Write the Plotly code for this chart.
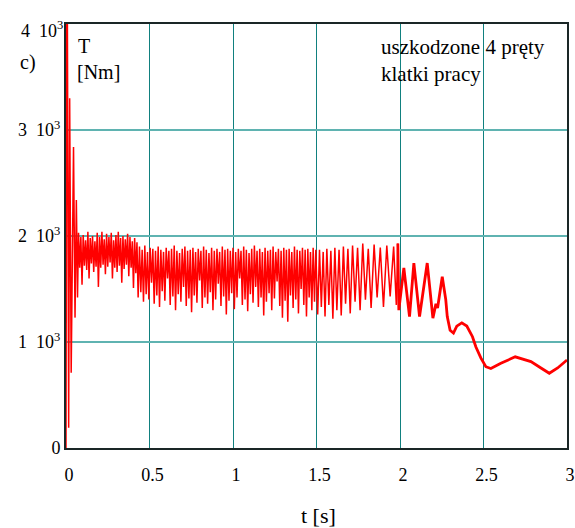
import plotly.graph_objects as go

# ---- data (alternating extremes of the torque signal) ----
t_start = [0.000, 0.006, 0.016, 0.022, 0.031, 0.045, 0.054, 0.062, 0.069]
T_start = [0, 5200, 190, 3300, 710, 2840, 1230, 2340, 1420]

t_early = [0.075, 0.082, 0.089, 0.096, 0.103, 0.110, 0.117, 0.124, 0.131, 0.138,
           0.145, 0.152, 0.159, 0.166, 0.173, 0.180, 0.187, 0.194, 0.201, 0.208,
           0.215, 0.222, 0.229, 0.236, 0.243, 0.250, 0.257, 0.264, 0.271, 0.278,
           0.285, 0.292, 0.299, 0.306, 0.313, 0.320, 0.327, 0.334, 0.341, 0.348,
           0.355, 0.362, 0.369, 0.376, 0.383, 0.390, 0.397, 0.404, 0.411, 0.418,
           0.425]
T_early = [2030, 1700, 1990, 1540, 2010, 1720, 1960, 1680, 2040, 1600,
           1980, 1740, 2000, 1660, 1950, 1710, 2030, 1520, 1990, 1700,
           2040, 1730, 1970, 1640, 2020, 1710, 1990, 1750, 2030, 1600,
           1960, 1700, 2010, 1660, 2040, 1720, 1980, 1560, 2000, 1690,
           1970, 1730, 2020, 1620, 1990, 1700, 1950, 1510, 1980, 1650,
           1940]

t_mid = [0.432, 0.440, 0.448, 0.456, 0.464, 0.472, 0.480, 0.488, 0.496, 0.504,
         0.512, 0.520, 0.528, 0.536, 0.544, 0.552, 0.560, 0.568, 0.576, 0.584,
         0.592, 0.600, 0.608, 0.616, 0.624, 0.632, 0.640, 0.648, 0.656, 0.664,
         0.672, 0.680, 0.688, 0.696, 0.704, 0.712, 0.720, 0.728, 0.736, 0.744,
         0.752, 0.760, 0.768, 0.776, 0.784, 0.792, 0.800, 0.808, 0.816, 0.824,
         0.832, 0.840, 0.848, 0.856, 0.864, 0.872, 0.880, 0.888, 0.896, 0.904,
         0.912, 0.920, 0.928, 0.936, 0.944, 0.952, 0.960, 0.968, 0.976, 0.984,
         0.992, 1.000, 1.008, 1.016, 1.024, 1.032, 1.040, 1.048, 1.056, 1.064,
         1.072, 1.080, 1.088, 1.096, 1.104, 1.112, 1.120, 1.128, 1.136, 1.144,
         1.152, 1.160, 1.168, 1.176, 1.184, 1.192, 1.200, 1.208, 1.216, 1.224,
         1.232, 1.240, 1.248, 1.256, 1.264, 1.272, 1.280, 1.288, 1.296, 1.304,
         1.312, 1.320, 1.328, 1.336, 1.344, 1.352, 1.360, 1.368, 1.376, 1.384,
         1.392, 1.400, 1.408, 1.416, 1.424, 1.432, 1.440, 1.448, 1.456, 1.464,
         1.472, 1.480, 1.488, 1.496]
T_mid = [1420, 1900, 1470, 1870, 1380, 1910, 1450, 1850, 1400, 1890,
         1560, 1880, 1360, 1860, 1440, 1900, 1330, 1870, 1480, 1850,
         1390, 1890, 1600, 1860, 1350, 1880, 1430, 1910, 1300, 1860,
         1450, 1840, 1380, 1880, 1520, 1900, 1340, 1860, 1410, 1870,
         1280, 1890, 1440, 1850, 1370, 1880, 1580, 1860, 1320, 1900,
         1420, 1870, 1360, 1840, 1470, 1890, 1300, 1860, 1400, 1880,
         1550, 1850, 1340, 1900, 1430, 1870, 1260, 1880, 1390, 1860,
         1460, 1890, 1310, 1850, 1420, 1880, 1600, 1860, 1350, 1900,
         1400, 1870, 1290, 1840, 1450, 1880, 1370, 1910, 1520, 1860,
         1330, 1880, 1420, 1850, 1250, 1890, 1380, 1860, 1460, 1870,
         1300, 1900, 1410, 1850, 1570, 1880, 1340, 1860, 1230, 1890,
         1390, 1870, 1190, 1880, 1440, 1850, 1320, 1900, 1400, 1870,
         1270, 1860, 1500, 1890, 1350, 1870, 1240, 1880, 1420, 1850,
         1300, 1890, 1380, 1870]

t_late = [1.507, 1.518, 1.529, 1.540, 1.551, 1.562, 1.574, 1.586, 1.598, 1.610,
          1.622, 1.635, 1.648, 1.661, 1.674, 1.688, 1.702, 1.716, 1.731, 1.746,
          1.761, 1.777, 1.793, 1.810, 1.827, 1.845, 1.863, 1.882, 1.901, 1.921,
          1.941, 1.962, 1.978, 1.987]
T_late = [1260, 1870, 1330, 1850, 1240, 1880, 1350, 1860, 1220, 1890,
          1300, 1870, 1250, 1900, 1360, 1880, 1270, 1910, 1380, 1890,
          1300, 1930, 1400, 1880, 1320, 1920, 1420, 1890, 1330, 1910,
          1430, 1900, 1350, 1930]

t_end = [1.987, 1.993, 2.023, 2.057, 2.083, 2.117, 2.163, 2.197, 2.215, 2.225, 2.253,
         2.274, 2.283, 2.300, 2.320, 2.340, 2.370, 2.400, 2.434, 2.454, 2.484,
         2.514, 2.544, 2.604, 2.690, 2.784, 2.844, 2.894, 2.944, 3.000]
T_end = [1930, 1300, 1700, 1240, 1745, 1240, 1745, 1225, 1360, 1320, 1615,
         1400, 1240, 1110, 1085, 1150, 1180, 1150, 1050, 955, 850,
         767, 750, 800, 860, 815, 755, 705, 755, 830]

y_tick_vals = [0, 1000, 2000, 3000]
y_tick_text = ["0", "1  10<sup>3</sup>", "2  10<sup>3</sup>", "3  10<sup>3</sup>"]
y_top_value = 4000
y_top_text = "4  10<sup>3</sup>"
x_tick_vals = [0, 0.5, 1, 1.5, 2, 2.5, 3]
x_tick_text = ["0", "0.5", "1", "1.5", "2", "2.5", "3"]

t_osc = t_start + t_early + t_mid + t_late
T_osc = T_start + T_early + T_mid + T_late

FONT = "Liberation Serif"

fig = go.Figure()
fig.add_trace(go.Scatter(x=t_osc, y=T_osc, mode="lines",
                         line=dict(color="#ff0000", width=1.5),
                         showlegend=False, hoverinfo="skip"))
fig.add_trace(go.Scatter(x=t_end, y=T_end, mode="lines",
                         line=dict(color="#ff0000", width=2.8),
                         showlegend=False, hoverinfo="skip"))

fig.update_layout(
    width=575, height=528,
    margin=dict(l=66, r=8, t=24, b=80),
    paper_bgcolor="white", plot_bgcolor="white",
    font=dict(family=FONT, color="black", size=18),
    xaxis=dict(range=[0, 3], tickvals=x_tick_vals, ticktext=x_tick_text,
               showgrid=True, gridcolor="#11807f", gridwidth=1.3,
               showline=True, linecolor="#1a2626", linewidth=2, mirror=True,
               zeroline=False, ticks="", ticklabelstandoff=9, ticklabelshift=3,
               ticklabeloverflow="allow",
               automargin=False, tickfont=dict(family=FONT, size=18)),
    yaxis=dict(range=[0, 4000], tickvals=y_tick_vals, ticktext=y_tick_text,
               showgrid=True, gridcolor="#5fb3b1", gridwidth=2,
               showline=True, linecolor="#1a2626", linewidth=2, mirror=True,
               zeroline=False, ticks="", ticklabelstandoff=0,
               automargin=False, tickfont=dict(family=FONT, size=18)),
    shapes=[
        dict(type="rect", xref="paper", yref="paper", x0=0.012, x1=0.19, y0=0.826, y1=0.997,
             fillcolor="white", line=dict(width=0), layer="between"),
        dict(type="rect", xref="paper", yref="paper", x0=0.61, x1=0.996, y0=0.826, y1=0.997,
             fillcolor="white", line=dict(width=0), layer="between"),
    ],
    annotations=[
        dict(text=y_top_text, xref="paper", yref="y", x=0, y=y_top_value,
             xanchor="right", yanchor="middle", xshift=-1, yshift=-5, showarrow=False,
             font=dict(family=FONT, size=18)),
        dict(text="T", xref="paper", yref="paper", x=(76 - 66) / 501, y=(448 - 46) / 424,
             xanchor="left", yanchor="middle", showarrow=False, font=dict(family=FONT, size=20)),
        dict(text="[Nm]", xref="paper", yref="paper", x=(75 - 66) / 501, y=(448 - 72) / 424,
             xanchor="left", yanchor="middle", showarrow=False, font=dict(family=FONT, size=20)),
        dict(text="c)", xref="paper", yref="paper", x=(18 - 66) / 501, y=(448 - 63) / 424,
             xanchor="left", yanchor="middle", showarrow=False, font=dict(family=FONT, size=20)),
        dict(text="uszkodzone 4 pręty", xref="paper", yref="paper", x=(379 - 66) / 501, y=(448 - 47) / 424,
             xanchor="left", yanchor="middle", showarrow=False, font=dict(family=FONT, size=21)),
        dict(text="klatki pracy", xref="paper", yref="paper", x=(379 - 66) / 501, y=(448 - 74) / 424,
             xanchor="left", yanchor="middle", showarrow=False, font=dict(family=FONT, size=21)),
        dict(text="t [s]", xref="paper", yref="paper", x=(318 - 66) / 501, y=(448 - 515) / 424,
             xanchor="center", yanchor="middle", showarrow=False, font=dict(family=FONT, size=22)),
    ],
)

fig.write_html("out.html", config={"displayModeBar": False},
               post_script="document.body.style.margin='0';document.body.style.overflow='hidden';")
